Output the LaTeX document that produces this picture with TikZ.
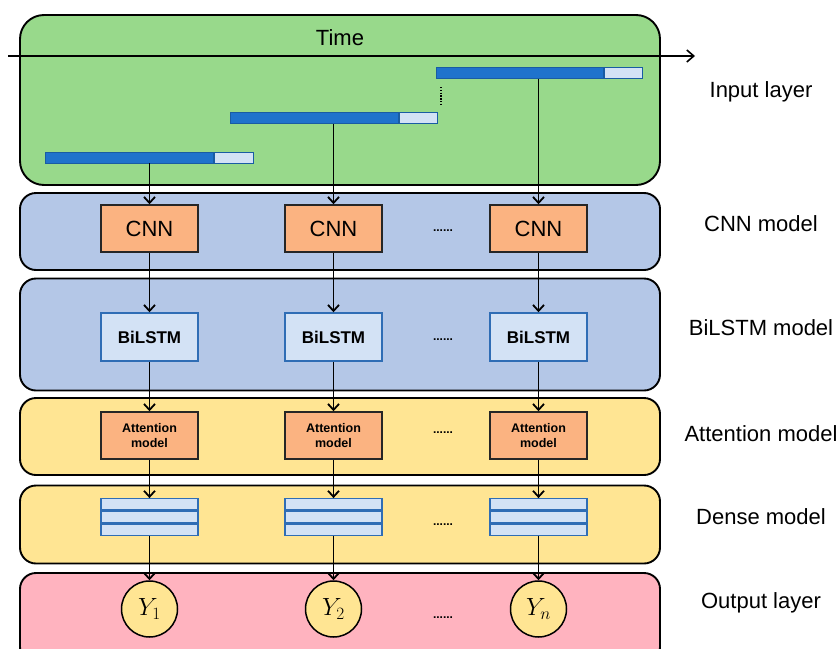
\documentclass[tikz,border=0pt]{standalone}
\usepackage{fontspec}
\setmainfont{Liberation Sans}
\usetikzlibrary{arrows.meta}
\definecolor{ingreen}{HTML}{98D98B}
\definecolor{layblue}{HTML}{B4C7E7}
\definecolor{boxorange}{HTML}{FBB381}
\definecolor{boxlight}{HTML}{D3E2F5}
\definecolor{boxborder}{HTML}{2F6DB5}
\definecolor{layyellow}{HTML}{FFE593}
\definecolor{laypink}{HTML}{FFB3BF}
\definecolor{bardark}{HTML}{1F73CC}
\begin{document}
\begin{tikzpicture}[x=1pt,y=-1pt,
  layer/.style={draw=black, line width=1.9pt, rounded corners=16pt, inner sep=0pt, minimum width=640pt},
  orangebox/.style={draw=black!85, line width=1.5pt, fill=boxorange, minimum width=97pt, minimum height=47pt, inner sep=0pt, align=center},
  lightbox/.style={draw=boxborder, line width=1.5pt, fill=boxlight, minimum width=97pt, minimum height=48pt, inner sep=0pt},
  stripe/.style={draw=boxborder, line width=1.3pt, fill=boxlight, minimum width=97pt, minimum height=11.3pt, inner sep=0pt},
  bardk/.style={draw=bardark!80!black, line width=0.8pt, fill=bardark, minimum height=11pt, inner sep=0pt},
  barlt/.style={draw=bardark!80!black, line width=0.8pt, fill=boxlight, minimum height=11pt, inner sep=0pt},
  outcircle/.style={circle, draw=black, line width=1.5pt, fill=layyellow, minimum size=56pt, inner sep=0pt},
  conn/.style={draw=black, line width=1.8pt, -{Straight Barb[length=6pt,width=11pt]}},
  lbl/.style={font=\fontsize{22}{26}\selectfont, anchor=center},
  dots/.style={font=\bfseries\fontsize{12}{12}\selectfont}
]
\useasboundingbox (0,0) rectangle (840,648);
\begin{scope}
\clip (0,0) rectangle (840,648);
% layers
\node[layer, fill=ingreen, minimum height=170pt, rounded corners=24pt] (Lin) at (340,100) {};
\node[layer, fill=layblue, minimum height=77pt] (Lcnn) at (340,231.5) {};
\node[layer, fill=layblue, minimum height=112pt] (Llstm) at (340,334.5) {};
\node[layer, fill=layyellow, minimum height=77pt] (Latt) at (340,436.5) {};
\node[layer, fill=layyellow, minimum height=78pt] (Lden) at (340,524.5) {};
\node[layer, fill=laypink, minimum height=90pt] (Lout) at (340,618) {};
\end{scope}

% time axis
\coordinate (t0) at (8,56);
\coordinate (t1) at (695,56);
\draw[line width=1.6pt, -{Straight Barb[length=7pt,width=12pt]}] (t0) -- (t1);
\node[lbl] (time) at (340,38) {Time};

% bars
\node[bardk, minimum width=168pt, anchor=west] (b1) at (45,157.5) {};
\node[barlt, minimum width=39pt, anchor=west] (b1l) at (b1.east) {};
\node[bardk, minimum width=168pt, anchor=west] (b2) at (230,118) {};
\node[barlt, minimum width=38pt, anchor=west] (b2l) at (b2.east) {};
\node[bardk, minimum width=167pt, anchor=west] (b3) at (436,73) {};
\node[barlt, minimum width=38pt, anchor=west] (b3l) at (b3.east) {};
\coordinate (vd0) at (441,87);
\coordinate (vd1) at (441,106);
\draw[line width=1.6pt, dash pattern=on 1.4pt off 1.4pt] (vd0) -- (vd1);

% columns
\foreach \i/\x in {1/149.5, 2/333.5, 3/538.5}{
  \node[orangebox, font=\fontsize{22}{26}\selectfont] (cnn\i) at (\x,228.5) {CNN};
  \node[lightbox, font=\bfseries\fontsize{17}{20}\selectfont] (lstm\i) at (\x,337) {BiLSTM};
  \node[orangebox, font=\bfseries\fontsize{12.5}{14.5}\selectfont] (att\i) at (\x,435.5) {Attention\\model};
  \node[stripe] (dn\i b) at (\x,517) {};
  \node[stripe, anchor=south] (dn\i a) at (dn\i b.north) {};
  \node[stripe, anchor=north] (dn\i c) at (dn\i b.south) {};
}
\node[outcircle, font=\fontsize{25}{28}\selectfont] (y1) at (149.5,609) {$Y_1$};
\node[outcircle, font=\fontsize{25}{28}\selectfont] (y2) at (333.5,609) {$Y_2$};
\node[outcircle, font=\fontsize{25}{28}\selectfont] (y3) at (538.5,609) {$Y_n$};

% connectors
\draw[conn] (cnn1 |- b1.south) -- (cnn1.north);
\draw[conn] (cnn2 |- b2.south) -- (cnn2.north);
\draw[conn] (cnn3 |- b3.south) -- (cnn3.north);
\foreach \i in {1,2,3}{
  \draw[conn] (cnn\i.south) -- (lstm\i.north);
  \draw[conn] (lstm\i.south) -- (att\i.north);
  \draw[conn] (att\i.south) -- (dn\i a.north);
}
\draw[conn] (dn1c.south) -- (y1.north);
\draw[conn] (dn2c.south) -- (y2.north);
\draw[conn] (dn3c.south) -- (y3.north);

% ellipses
\node[dots] (e1) at (443,231) {......};
\node[dots] (e2) at (443,340) {......};
\node[dots] (e3) at (443,433) {......};
\node[dots] (e4) at (443,525) {......};
\node[dots] (e5) at (443,618) {......};

% right labels
\node[lbl] (r1) at (761,92) {Input layer};
\node[lbl] (r2) at (761,224) {CNN model};
\node[lbl] (r3) at (761,328) {BiLSTM model};
\node[lbl] (r4) at (761,434) {Attention model};
\node[lbl] (r5) at (761,517) {Dense model};
\node[lbl] (r6) at (761,603) {Output layer};
\end{tikzpicture}
\end{document}
